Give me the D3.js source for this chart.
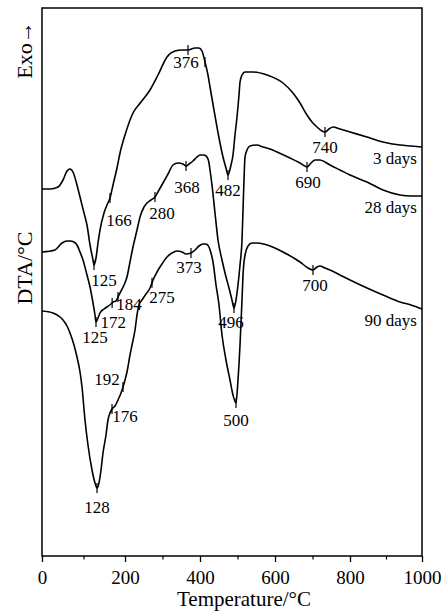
<!DOCTYPE html>
<html>
<head>
<meta charset="utf-8">
<script src="https://cdn.jsdelivr.net/npm/d3@7"></script>
<style>
  body { margin: 0; background: #fff; }
</style>
</head>
<body>
<div id="chart"></div>
<script>
// DTA curves, [temperature °C, signal in arbitrary units]
const days3 = [
  [0,91.75],[19.3,91.75],[38.6,92.25],[50.6,94],[60.2,96.25],[67.5,96.75],[74.7,96],[84.3,92.75],
  [91.6,89.75],[101.2,85.75],[108.4,82.75],[115.7,77.75],[122.9,74],[125.3,72.75],[130.1,74.5],
  [134.9,78.25],[139.8,81.5],[149.4,85.75],[156.6,87.75],[163.9,89.5],[171.1,92.75],[180.7,97],
  [188,100.75],[200,105.25],[221.3,110.75],[242.7,113.5],[266.7,116.5],[288,120.25],[312,124.75],
  [333.3,126.25],[352,126.5],[368,126.5],[386.7,127],[397.3,127],[405.3,126.25],[413.3,123.5],
  [421.3,120.25],[426.7,117.25],[437.3,111.5],[445.3,107.25],[453.3,103.25],[461.3,99.75],
  [469.3,97],[474.7,95.25],[482.7,97.75],[488,100.25],[493.3,105.25],[498.7,109.75],[504,115.25],
  [506.7,118.5],[512,120.25],[520,121],[541.3,121],[578.7,120.25],[621.3,118.25],[648,115.75],
  [666.7,113.25],[685.3,110.25],[698.7,108.5],[712,107.25],[725.3,106.25],[733.3,106],[744,106.75],
  [754.7,107.25],[773.3,106.75],[800,106],[847.2,104.75],[891.7,103.5],[938.9,102.75],
  [969.4,102.5],[1000,102.25]
];
const days28 = [
  [0,76],[31.3,76.5],[48.2,78.25],[60.2,78.75],[67.5,78.75],[77.1,78.5],[84.3,77.75],[91.6,76],
  [98.8,74],[108.4,70.25],[115.7,67.25],[122.9,63.25],[127.7,60.25],[130.1,58.5],[134.9,59.5],
  [139.8,60.75],[149.4,61.75],[156.6,62.25],[166.3,63],[171.1,63.5],[178.3,63.75],[183.1,64.75],
  [188,65.75],[197.6,67.75],[205.3,69.75],[213.3,73.5],[221.3,77.25],[232,81.5],[240,84.75],
  [250.7,87.25],[258.7,88.25],[269.3,89],[280,89.75],[290.7,91.5],[301.3,93.25],[314.7,95.5],
  [328,97.75],[341.3,98.25],[354.7,98],[362.7,97.5],[370.7,98],[381.3,98.75],[392,99.75],
  [400,100.25],[410.7,100.25],[418.7,99.75],[424,98.25],[426.7,96.5],[432,92.75],[440,85.75],
  [448,79],[458.7,74],[466.7,70.75],[477.3,67],[485.3,64],[490.7,62],[496,64],[501.3,67.75],
  [506.7,72.75],[512,79],[514.7,86.5],[517.3,94],[520,99.75],[525.3,101.5],[533.3,102.5],
  [552,102.75],[568,102.25],[586.7,101.75],[605.3,101],[640,99.5],[666.7,98.25],[685.3,97.25],
  [696,98.25],[706.7,99],[720,99],[733.3,98.5],[746.7,97.75],[773.3,96.5],[800,95.25],
  [847.2,93.5],[891.7,91.5],[938.9,90.25],[969.4,90],[1000,90]
];
const days90 = [
  [0,61.25],[26.5,60.75],[43.4,59.75],[50.6,59],[60.2,57.5],[67.5,55.75],[77.1,52.75],[84.3,49.75],
  [91.6,46],[96.4,42.25],[103.6,34],[110.8,27.75],[120.5,21.5],[127.7,18.25],[132.5,17],
  [137.3,18.25],[142.2,21.5],[147,25.75],[154.2,30.25],[159,34],[163.9,35.75],[168.7,36.75],
  [175.9,37.5],[183.1,39],[190.4,40.75],[195.2,42.25],[200,44],[205.3,46],[213.3,50.25],
  [218.7,52.75],[226.7,56.5],[232,60.25],[237.3,62.75],[245.3,64],[256,65.5],[266.7,67],
  [274.7,69],[285.3,71],[298.7,73],[312,74.75],[325.3,75.75],[338.7,76.25],[352,76],[362.7,75.5],
  [376,75.75],[386.7,76.5],[397.3,77.5],[408,78],[416,78],[424,77.25],[429.3,75.75],[434.7,73.5],
  [442.7,67.75],[450.7,62.75],[458.7,55.25],[469.3,49],[480,44],[488,40.25],[496,38.25],
  [501.3,44],[506.7,52.75],[512,64],[514.7,70.25],[520,75.25],[528,77.5],[538.7,78.25],
  [554.7,78.25],[578.7,77.75],[621.3,76],[666.7,73.5],[688,72],[701.3,71.5],[712,72.25],[720,72.5],
  [733.3,72],[746.7,71.5],[773.3,70.25],[800,69],[847.2,67],[891.7,65.25],[938.9,63.5],
  [969.4,62.75],[1000,61.75]
];

const seriesNames = ['3 days', '28 days', '90 days'];
const xTicks = [0, 200, 400, 600, 800, 1000];
const xMinorTicks = [100, 300, 500, 700, 900];

// peak marks: [series index, temperature where the mark sits, label]
const peaks = [
  [0, 125.3, '125'], [0, 163.9, '166'], [0, 368, '376'], [0, 413.3, ''], [0, 474.7, '482'], [0, 733.3, '740'],
  [1, 130.1, '125'], [1, 169, '172'], [1, 183.1, '184'], [1, 280, '280'], [1, 362.7, '368'], [1, 490.7, '496'], [1, 685.3, '690'],
  [2, 132.5, '128'], [2, 168.7, '176'], [2, 195.2, '192'], [2, 272, '275'], [2, 376, '373'], [2, 496, '500'], [2, 701.3, '700']
];
// label offsets from each mark, px
const peakOffsets = [
  [10, 21], [9, 28], [-2, 18], [0, 0], [0, 21], [0, 21],
  [-1, 21], [1, 25], [11, 13], [7, 22], [1, 27], [-3, 20], [1, 21],
  [0, 25], [13, 13], [-16, -2], [10, 20], [-2, 20], [0, 23], [2, 21]
];

const width = 441;
const height = 614;
const serif = '"Liberation Serif", "Times New Roman", serif';

const svg = d3.select('#chart')
  .append('svg')
  .attr('width', width)
  .attr('height', height)
  .attr('viewBox', [0, 0, width, height]);

const x = d3.scaleLinear()
  .domain([0, 200, 800, 1000])
  .range([42, 125, 350, 422]);

const y = d3.scaleLinear()
  .domain([0, 137])
  .range([556, 8]);

const line = d3.line()
  .x(d => x(d[0]))
  .y(d => y(d[1]))
  .curve(d3.curveMonotoneX);

const allSeries = [days3, days28, days90];

svg.append('g')
  .attr('fill', 'none')
  .attr('stroke', '#000')
  .attr('stroke-width', 1.6)
  .attr('stroke-linejoin', 'round')
  .selectAll('path')
  .data(allSeries)
  .join('path')
    .attr('d', line);

// frame
svg.append('rect')
  .attr('x', x(0))
  .attr('y', y(137))
  .attr('width', x(1000) - x(0))
  .attr('height', y(0) - y(137))
  .attr('fill', 'none')
  .attr('stroke', '#000')
  .attr('stroke-width', 1.5);

function xAxis(g) {
  g.attr('transform', `translate(0, ${y(0)})`)
    .call(d3.axisBottom(x).tickValues(xTicks).tickSize(6).tickPadding(9).tickFormat(d3.format('d')))
    .attr('font-family', serif)
    .attr('font-size', 19)
    .call(g => g.select('.domain').remove())
    .call(g => g.selectAll('.tick line').attr('stroke-width', 1.3))
    .call(g => g.selectAll('.tick text').attr('fill', '#000'));
}

function xMinor(g) {
  g.attr('transform', `translate(0, ${y(0)})`)
    .call(d3.axisBottom(x).tickValues(xMinorTicks).tickSize(3.5).tickFormat(''))
    .call(g => g.select('.domain').remove())
    .call(g => g.selectAll('.tick line').attr('stroke-width', 1.2));
}

svg.append('g').call(xAxis);
svg.append('g').call(xMinor);

// value of a series at a temperature
const bis = d3.bisector(d => d[0]).left;
function valueAt(s, t) {
  const i = Math.max(1, Math.min(s.length - 1, bis(s, t)));
  const a = s[i - 1], b = s[i];
  const k = (t - a[0]) / (b[0] - a[0]);
  return a[1] + k * (b[1] - a[1]);
}

const marks = svg.append('g');
peaks.forEach((p, i) => {
  const px = x(p[1]);
  const py = y(valueAt(allSeries[p[0]], p[1]));
  marks.append('line')
    .attr('x1', px).attr('x2', px)
    .attr('y1', py - 5).attr('y2', py + 5)
    .attr('stroke', '#000')
    .attr('stroke-width', 1.2);
  if (p[2]) {
    marks.append('text')
      .attr('x', px + peakOffsets[i][0])
      .attr('y', py + peakOffsets[i][1])
      .attr('text-anchor', 'middle')
      .attr('font-family', serif)
      .attr('font-size', 17)
      .text(p[2]);
  }
});

// series names at the right end of each curve
svg.append('g')
  .selectAll('text')
  .data(allSeries)
  .join('text')
    .attr('x', x(1000) - 5)
    .attr('y', d => y(d[d.length - 1][1]) + 17)
    .attr('text-anchor', 'end')
    .attr('font-family', serif)
    .attr('font-size', 17)
    .text((d, i) => seriesNames[i]);

svg.append('text')
  .attr('x', 244)
  .attr('y', 606)
  .attr('text-anchor', 'middle')
  .attr('font-family', serif)
  .attr('font-size', 21)
  .text('Temperature/°C');

svg.append('text')
  .attr('transform', 'translate(32, 268) rotate(-90)')
  .attr('text-anchor', 'middle')
  .attr('font-family', serif)
  .attr('font-size', 22)
  .text('DTA/°C');

svg.append('text')
  .attr('transform', 'translate(32, 50) rotate(-90)')
  .attr('text-anchor', 'middle')
  .attr('font-family', serif)
  .attr('font-size', 22)
  .text('Exo→');
</script>
</body>
</html>
